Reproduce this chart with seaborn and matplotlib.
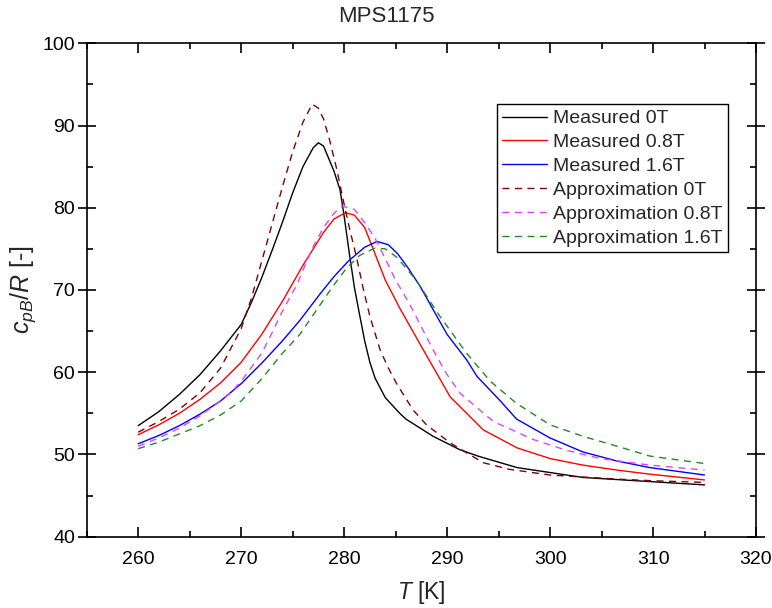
import numpy as np
import pandas as pd
import matplotlib
matplotlib.use('Agg')
import matplotlib.pyplot as plt
import seaborn as sns
from matplotlib.ticker import MultipleLocator

sns.set_style('ticks')
plt.rcParams['font.family'] = ['Liberation Sans', 'DejaVu Sans']
plt.rcParams['mathtext.fontset'] = 'custom'
plt.rcParams['mathtext.rm'] = 'Liberation Sans'
plt.rcParams['mathtext.it'] = 'Liberation Sans:italic'

title = 'MPS1175'
x_label = r'$T$ [K]'
y_label = r'$c_{pB}$/$R$ [-]'
x_ticks = [260, 270, 280, 290, 300, 310, 320]
y_ticks = [40, 50, 60, 70, 80, 90, 100]

labels = ['Measured 0T', 'Measured 0.8T', 'Measured 1.6T',
          'Approximation 0T', 'Approximation 0.8T', 'Approximation 1.6T']
colors = ['black', '#FF0000', '#0000FF', '#800000', '#DD44FF', '#228B22']

t_meas_0 = [260, 262, 264, 266, 268, 270, 271, 272, 273, 274, 275, 276, 277, 277.5, 278, 279,
            279.6, 280, 280.5, 281, 281.5, 282, 282.5, 283, 284, 285.4, 286, 288.65, 291.2, 293,
            296.8, 300, 303.2, 309.7, 315]
c_meas_0 = [53.5, 55.2, 57.3, 59.7, 62.6, 65.8, 68.5, 71.5, 74.8, 78.2, 81.8, 85.0, 87.3, 87.9, 87.5, 84.5,
            82.2, 79.0, 74.5, 70.3, 67.0, 63.8, 61.2, 59.3, 56.9, 55.0, 54.3, 52.2, 50.6, 49.8,
            48.4, 47.8, 47.2, 46.7, 46.3]

t_meas_08 = [260, 262, 264, 266, 268, 270, 272, 274, 275, 276, 277, 278, 279, 280.1, 281, 282, 283,
             284, 285.4, 287.7, 290.3, 293.5, 296.8, 300, 303.2, 306.5, 309.7, 315]
c_meas_08 = [52.4, 53.6, 55.0, 56.7, 58.7, 61.2, 64.6, 68.6, 70.8, 73.0, 75.0, 77.0, 78.6, 79.4, 79.1, 77.6, 74.4,
             71.2, 67.8, 62.7, 57.0, 53.0, 50.8, 49.5, 48.7, 48.1, 47.6, 46.9]

t_meas_16 = [260, 262, 264, 266, 268, 270, 272, 274, 275.7, 277.65, 279, 280.4, 282, 283.2, 284.3,
             285.2, 286.2, 287.4, 288.65, 290, 291.9, 292.9, 295.1, 296.75, 300, 303.2, 306.5, 309.7, 315]
c_meas_16 = [51.3, 52.3, 53.5, 54.9, 56.5, 58.6, 61.1, 63.8, 66.3, 69.5, 71.6, 73.5, 75.2, 75.9, 75.5,
             74.4, 72.7, 70.4, 67.6, 64.6, 61.5, 59.5, 56.6, 54.3, 52.0, 50.3, 49.2, 48.4, 47.5]

t_appr_0 = [260, 262, 264, 266, 268, 270, 271, 272, 273, 274, 275, 276, 276.9, 277.5, 278, 278.6,
            279.3, 279.9, 280.5, 281.2, 281.85, 282.5, 283.5, 284.3, 285.1, 286.7, 288, 290.3,
            293.5, 296, 300, 306.5, 310, 315]
c_appr_0 = [52.7, 54.0, 55.5, 57.5, 60.5, 65.3, 69.0, 73.5, 78.0, 82.5, 86.8, 90.4, 92.6, 92.1, 90.8, 88.2,
            84.6, 81.0, 77.6, 74.0, 70.2, 66.8, 62.7, 60.5, 58.6, 55.4, 53.6, 51.4,
            49.0, 48.2, 47.5, 47.0, 46.8, 46.6]

t_appr_08 = [260, 262, 264, 266, 268, 269, 270, 272, 273, 274, 275.4, 276, 277, 278, 279, 279.8, 281,
             282, 283, 284, 285, 286.4, 288.65, 290, 291.3, 294.5, 298.4, 301.6, 304.9, 309.7, 315]
c_appr_08 = [51.0, 52.0, 53.2, 54.7, 56.5, 57.5, 58.9, 62.3, 64.8, 67.4, 70.6, 72.4, 75.3, 77.6, 79.3, 80.2, 79.8,
             78.2, 76.3, 73.8, 71.2, 68.2, 62.7, 59.7, 57.4, 54.0, 51.8, 50.5, 49.5, 48.7, 48.1]

t_appr_16 = [260, 262, 264, 266, 268, 270, 272, 274, 275.7, 278, 279, 280.2, 281.5, 283, 284, 285.1,
             287, 289.3, 291.9, 294.2, 296.75, 300, 303.2, 306.5, 309.7, 315]
c_appr_16 = [50.7, 51.5, 52.5, 53.5, 54.8, 56.5, 59.2, 62.3, 64.6, 68.8, 70.6, 72.6, 74.2, 75.1, 75.0, 74.0,
             71.2, 66.8, 62.3, 58.9, 56.2, 53.6, 52.2, 51.0, 49.8, 48.9]

series_t = [t_meas_0, t_meas_08, t_meas_16, t_appr_0, t_appr_08, t_appr_16]
series_c = [c_meas_0, c_meas_08, c_meas_16, c_appr_0, c_appr_08, c_appr_16]

fig = plt.figure(figsize=(7.72, 6.08), dpi=100)
ax = fig.add_axes([0.1123, 0.1173, 0.8670, 0.8115])

for i, (t, c) in enumerate(zip(series_t, series_c)):
    df = pd.DataFrame({'T': t, 'c': c})
    ls = '-' if i < 3 else (0, (5, 4))
    sns.lineplot(data=df, x='T', y='c', ax=ax, color=colors[i], linestyle=ls,
                 linewidth=1.0, label=labels[i], estimator=None, sort=False)

ax.set_xlim(255, 320)
ax.set_ylim(40, 100)
ax.set_xticks(x_ticks)
ax.set_yticks(y_ticks)
ax.xaxis.set_minor_locator(MultipleLocator(5))
ax.yaxis.set_minor_locator(MultipleLocator(5))
for s in ax.spines.values():
    s.set_visible(True)
    s.set_linewidth(1.2)
    s.set_color('black')
ax.tick_params(axis='both', which='both', direction='in', top=True, right=True,
               width=1.2, colors='black', labelsize=14)
ax.tick_params(axis='both', which='major', length=7)
ax.tick_params(axis='both', which='minor', length=4.3)
ax.tick_params(axis='x', which='major', pad=10)
ax.tick_params(axis='y', which='major', direction='inout', length=13, pad=2, right=True)

ax.set_xlabel(x_label, fontsize=16.5, labelpad=8)
ax.set_ylabel(y_label, fontsize=18, labelpad=3)
fig.suptitle(title, fontsize=16, x=0.5, y=0.99)

leg = ax.legend(loc='upper right', bbox_to_anchor=(0.9586, 0.877), borderaxespad=0,
                frameon=True, fancybox=False, edgecolor='black', framealpha=1,
                fontsize=14, handlelength=2.3, labelspacing=0.32, borderpad=0.3,
                handletextpad=0.3)
leg.get_frame().set_linewidth(1.0)

fig.savefig('out.png', dpi=100)
